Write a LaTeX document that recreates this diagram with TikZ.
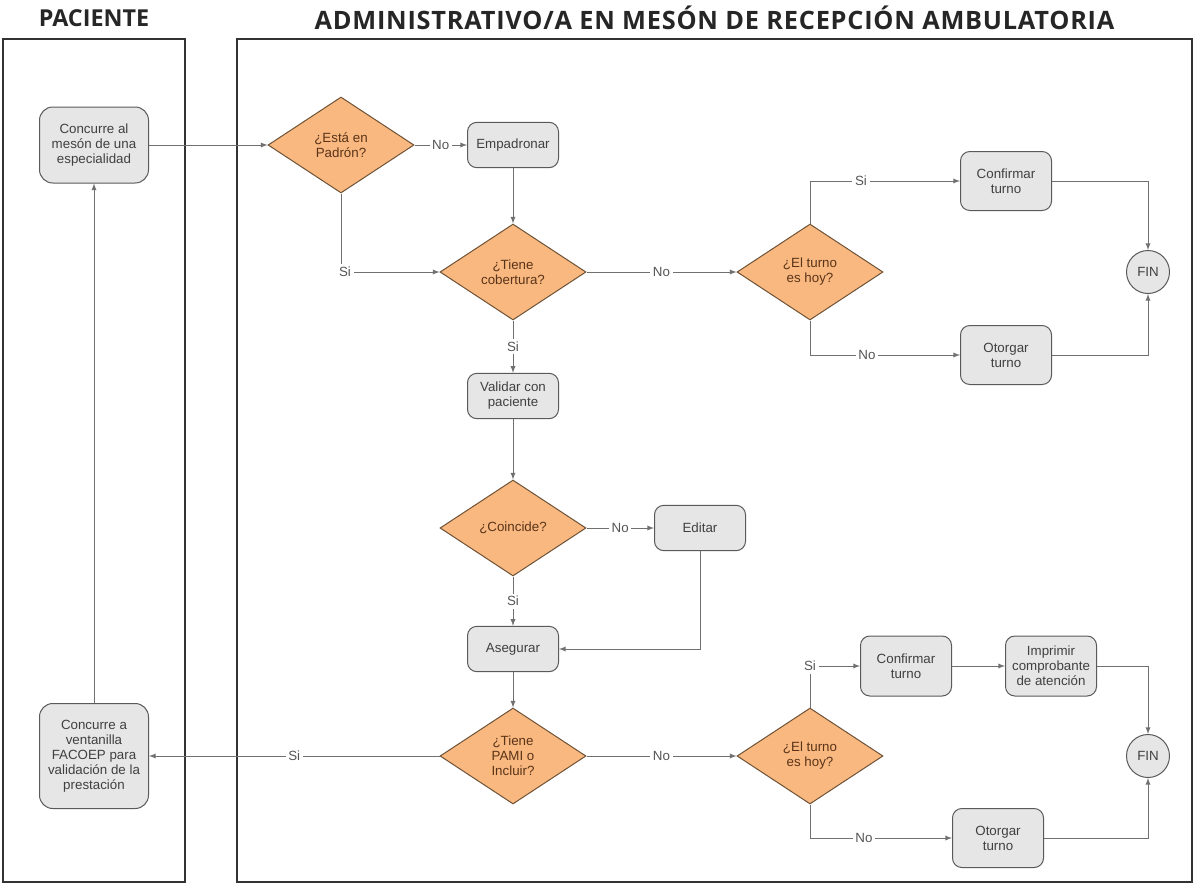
\documentclass[tikz,border=0pt]{standalone}
\usepackage{fontspec}
\setmainfont{Liberation Sans}
\newfontfamily\titlefont{Open Sans}
\newfontfamily\titlewide[LetterSpace=3]{Open Sans}
\usepackage{tikz}
\usetikzlibrary{shapes}

\definecolor{boxgray}{HTML}{E6E6E6}
\definecolor{boxline}{HTML}{5A5A5A}
\definecolor{boxtext}{HTML}{404040}
\definecolor{decfill}{HTML}{F9B880}
\definecolor{decline}{HTML}{6E5236}
\definecolor{dectext}{HTML}{5A3418}
\definecolor{linegray}{HTML}{707070}
\definecolor{lblgray}{HTML}{555555}
\definecolor{lanegray}{HTML}{333333}

\newcommand{\nodefont}{\fontsize{10}{11.25}\selectfont}

\begin{document}
\begin{tikzpicture}[->,
>=latex,
line width=0.75pt,
draw=linegray,
node distance=100pt,
block/.style={draw=boxline, fill=boxgray, rectangle, rounded corners=7pt, align=center, text=boxtext, font=\nodefont, inner sep=2pt, minimum width=68.25pt, minimum height=34pt},
bigblock/.style={block, rounded corners=10pt, minimum width=81.75pt},
decision/.style={draw=decline, fill=decfill, diamond, align=center, text=dectext, font=\nodefont, inner sep=0pt, minimum width=109.5pt, minimum height=72pt},
fin/.style={draw=boxline, fill=boxgray, circle, text=boxtext, font=\nodefont, inner sep=0pt, minimum size=32.25pt},
lbl/.style={fill=white, text=lblgray, font=\nodefont, inner sep=2pt},
lane/.style={-, draw=lanegray, line width=1.5pt},
title/.style={font=\titlefont\bfseries\fontsize{17.5}{20}\selectfont, text=black!85}]

\useasboundingbox (0,0) rectangle (896.25pt,-663.75pt);

% carriles
\draw[lane] (2.25pt,-29.25pt) rectangle (138.75pt,-661.5pt);
\draw[lane] (177.75pt,-29.25pt) rectangle (894pt,-661.5pt);
\node[title] (tPac) at (70.5pt,-13.5pt) {PACIENTE};
\node[title, font=\titlewide\bfseries\fontsize{19}{22}\selectfont] (tAdm) at (535.9pt,-13.5pt) {ADMINISTRATIVO/A EN MESÓN DE RECEPCIÓN AMBULATORIA};

\node[bigblock, minimum height=57pt] (concA) at (70.5pt,-108.75pt) {Concurre al\\mesón de una\\especialidad};

\node[decision]		(padron)[right of=concA, xshift=85.25pt]		{¿Está en\\Padrón?};
\node[block]		(empad)[right of=padron, xshift=29pt]		{Empadronar};
\node[decision]		(cobert)[below of=empad, yshift=4.75pt]		{¿Tiene\\cobertura?};
\node[decision]		(hoyA)[right of=cobert, xshift=122.75pt]		{¿El turno\\es hoy?};
\node[block, minimum height=44.25pt]	(confA)[right of=hoyA, xshift=47pt, yshift=68.25pt]	{Confirmar\\turno};
\node[block, minimum height=44.25pt]	(otorA)[right of=hoyA, xshift=47pt, yshift=-62.25pt]	{Otorgar\\turno};
\node[fin]		(finA)[right of=hoyA, xshift=153.5pt]		{FIN};

\node[block]		(validar)[below of=cobert, yshift=7pt]		{Validar con\\paciente};
\node[decision]		(coincide)[below of=validar, yshift=1pt]		{¿Coincide?};
\node[block]		(editar)[right of=coincide, xshift=40.25pt]		{Editar};
\node[block]		(asegurar)[below of=coincide, yshift=9.25pt]		{Asegurar};
\node[decision]		(pami)[below of=asegurar, yshift=19.75pt]		{¿Tiene\\PAMI o\\Incluir?};
\node[decision]		(hoyB)[right of=pami, xshift=122.75pt]		{¿El turno\\es hoy?};
\node[block, minimum height=45pt]	(confB)[right of=hoyB, xshift=-28pt, yshift=67.5pt]	{Confirmar\\turno};
\node[block, minimum height=45pt]	(imprimir)[right of=confB, xshift=8.75pt]	{Imprimir\\comprobante\\de atención};
\node[block, minimum height=44.25pt]	(otorB)[right of=hoyB, xshift=41pt, yshift=-61.5pt]	{Otorgar\\turno};
\node[fin]		(finB)[right of=hoyB, xshift=153.5pt]		{FIN};

\node[bigblock, minimum height=78.75pt]	(concB)[left of=pami, xshift=-214.25pt]	{Concurre a\\ventanilla\\FACOEP para\\validación de la\\prestación};

\path[->]
 (concA.east) edge (padron.west)
 (padron.east) edge node[lbl]{No} (empad.west)
 (empad) edge (cobert)
 (cobert.east) edge node[lbl]{No} (hoyA.west)
 (cobert.south) edge node[lbl]{Si} (validar.north)
 (validar) edge (coincide)
 (coincide.east) edge node[lbl]{No} (editar.west)
 (coincide.south) edge node[lbl]{Si} (asegurar.north)
 (asegurar) edge (pami)
 (pami.west) edge node[lbl]{Si} (concB.east)
 (pami.east) edge node[lbl]{No} (hoyB.west)
 (confB) edge (imprimir)
 (concB) edge (concA);

\draw (padron.south) |- node[lbl, pos=0.5, xshift=3pt]{Si} (cobert.west);
\draw (hoyA.north) |- node[lbl, pos=0.67]{Si} (confA.west);
\draw (hoyA.south) |- node[lbl, pos=0.69]{No} (otorA.west);
\draw (confA.east) -| (finA.north);
\draw (otorA.east) -| (finA.south);
\draw (editar.south) |- (asegurar.east);
\draw (hoyB.north) |- node[lbl, pos=0.5]{Si} (confB.west);
\draw (hoyB.south) |- node[lbl, pos=0.69]{No} (otorB.west);
\draw (imprimir.east) -| (finB.north);
\draw (otorB.east) -| (finB.south);

\end{tikzpicture}
\end{document}
